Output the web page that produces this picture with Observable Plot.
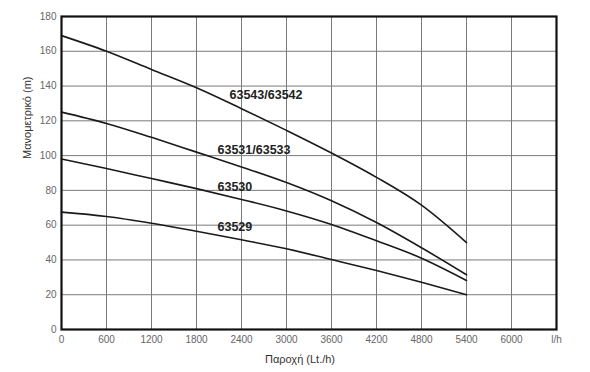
<!DOCTYPE html>
<html>
<head>
<meta charset="utf-8">
<script src="https://cdn.jsdelivr.net/npm/d3@7"></script>
<script src="https://cdn.jsdelivr.net/npm/@observablehq/plot@0.6"></script>
<style>
  html, body { margin: 0; padding: 0; background: #fff; }
  #chart { width: 590px; height: 372px; }
</style>
</head>
<body>
<div id="chart"></div>
<script>
const flow = [0, 600, 1200, 1800, 2400, 3000, 3600, 4200, 4800, 5400];
const s63543 = [169, 160, 149.5, 139, 127, 114.5, 101.5, 87.5, 71.5, 50];
const s63531 = [125, 118.5, 110.5, 102, 93.5, 84.5, 74, 61.5, 47, 31.5];
const s63530 = [98, 92.6, 86.8, 81, 74.8, 68.2, 60.4, 51, 41, 28.2];
const s63529 = [67.5, 65, 61.1, 56.5, 51.6, 46.4, 40.2, 33.9, 27.2, 20];

const seriesNames = ["63543/63542", "63531/63533", "63530", "63529"];
const seriesValues = [s63543, s63531, s63530, s63529];
const labelX = [2240, 2080, 2080, 2080];
const labelY = [134.6, 103, 82, 59];

const xTicks = [0, 600, 1200, 1800, 2400, 3000, 3600, 4200, 4800, 5400, 6000, 6600];
const xTickLabels = ["0", "600", "1200", "1800", "2400", "3000", "3600", "4200", "4800", "5400", "6000", "l/h"];
const yTicks = [0, 20, 40, 60, 80, 100, 120, 140, 160, 180];

const rows = [];
seriesNames.forEach((name, i) => {
  flow.forEach((q, j) => rows.push({series: name, q, h: seriesValues[i][j]}));
});
const labels = seriesNames.map((name, i) => ({name, x: labelX[i], y: labelY[i]}));

const plot = Plot.plot({
  width: 590,
  height: 372,
  marginLeft: 61,
  marginRight: 34,
  marginTop: 16,
  marginBottom: 43,
  style: {fontFamily: "Liberation Sans, Arial, sans-serif", background: "#fff"},
  x: {domain: [0, 6600]},
  y: {domain: [0, 180]},
  marks: [
    Plot.ruleX(xTicks, {stroke: "#7a7a7a", strokeWidth: 1}),
    Plot.ruleY(yTicks, {stroke: "#7a7a7a", strokeWidth: 1}),
    Plot.line(rows, {x: "q", y: "h", z: "series", stroke: "#1a1a1a", strokeWidth: 1.6, curve: "monotone-x"}),
    Plot.text(labels, {x: "x", y: "y", text: "name", textAnchor: "start", fontSize: 12.5, fontWeight: "bold", fill: "#222"}),
    Plot.axisX({ticks: xTicks, tickFormat: (d) => xTickLabels[xTicks.indexOf(d)], tickSize: 0, tickPadding: 6, fontSize: 10, color: "#666", label: null}),
    Plot.axisY({ticks: yTicks, tickSize: 0, tickPadding: 5, fontSize: 10, color: "#666", label: null}),
    Plot.frame({stroke: "#111", strokeWidth: 2.2}),
    Plot.text(["Παροχή (Lt./h)"], {frameAnchor: "bottom", dy: 33, dx: -9, fontSize: 11, fill: "#333"}),
    Plot.text(["Μανομετρικό (m)"], {frameAnchor: "left", dx: -34, dy: -14, rotate: -90, fontSize: 11, fill: "#333"})
  ]
});
document.getElementById("chart").appendChild(plot);
</script>
</body>
</html>
